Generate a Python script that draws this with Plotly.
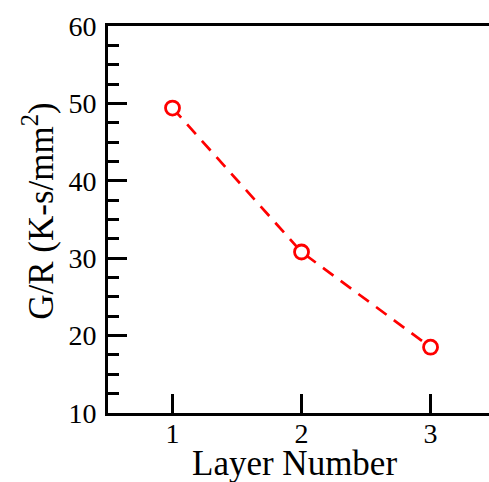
import plotly.graph_objects as go

# Temperature gradient / growth rate ratio per deposited layer
layers = [1, 2, 3]
g_over_r = [49.4, 30.8, 18.5]

x_ticks = [1, 2, 3]
y_ticks = [10, 20, 30, 40, 50, 60]

FONT = "Liberation Serif, Times New Roman, serif"
RED = "#ff0000"

fig = go.Figure()
fig.add_trace(go.Scatter(
    x=layers,
    y=g_over_r,
    mode="lines+markers",
    line=dict(color=RED, width=2.7, dash="13px,9px"),
    marker=dict(symbol="circle", size=14, color="white", line=dict(width=2.8, color=RED)),
    showlegend=False,
    cliponaxis=False,
))

axis_common = dict(
    showline=True,
    linecolor="black",
    linewidth=3,
    ticks="inside",
    tickwidth=3,
    tickcolor="black",
    showgrid=False,
    zeroline=False,
    tickfont=dict(family=FONT, size=28, color="black"),
)

fig.update_xaxes(
    range=[0.5, 3.453],
    tickvals=x_ticks,
    ticklen=19,
    mirror=True,
    ticklabelstandoff=-7,
    **axis_common,
)
fig.update_yaxes(
    range=[10, 60],
    tickvals=y_ticks,
    ticklen=19,
    ticklabelstandoff=3,
    minor=dict(ticks="inside", ticklen=11, tickwidth=3, tickcolor="black",
               tick0=10, dtick=2.5, showgrid=False),
    **axis_common,
)

fig.add_annotation(
    text="Layer Number",
    xref="paper", yref="paper",
    x=0.49, y=0, yshift=-29,
    xanchor="center", yanchor="top",
    showarrow=False,
    font=dict(family=FONT, size=35, color="black"),
)
fig.add_annotation(
    text="G/R (K-s/mm<sup>2</sup>)",
    xref="paper", yref="paper",
    x=0, xshift=-69,
    y=0.52,
    xanchor="center", yanchor="middle",
    textangle=-90,
    showarrow=False,
    font=dict(family=FONT, size=35, color="black"),
)

fig.update_layout(
    width=489,
    height=482,
    margin=dict(l=108, r=0, t=26, b=69),
    paper_bgcolor="white",
    plot_bgcolor="white",
)

fig.write_html("out.html")
